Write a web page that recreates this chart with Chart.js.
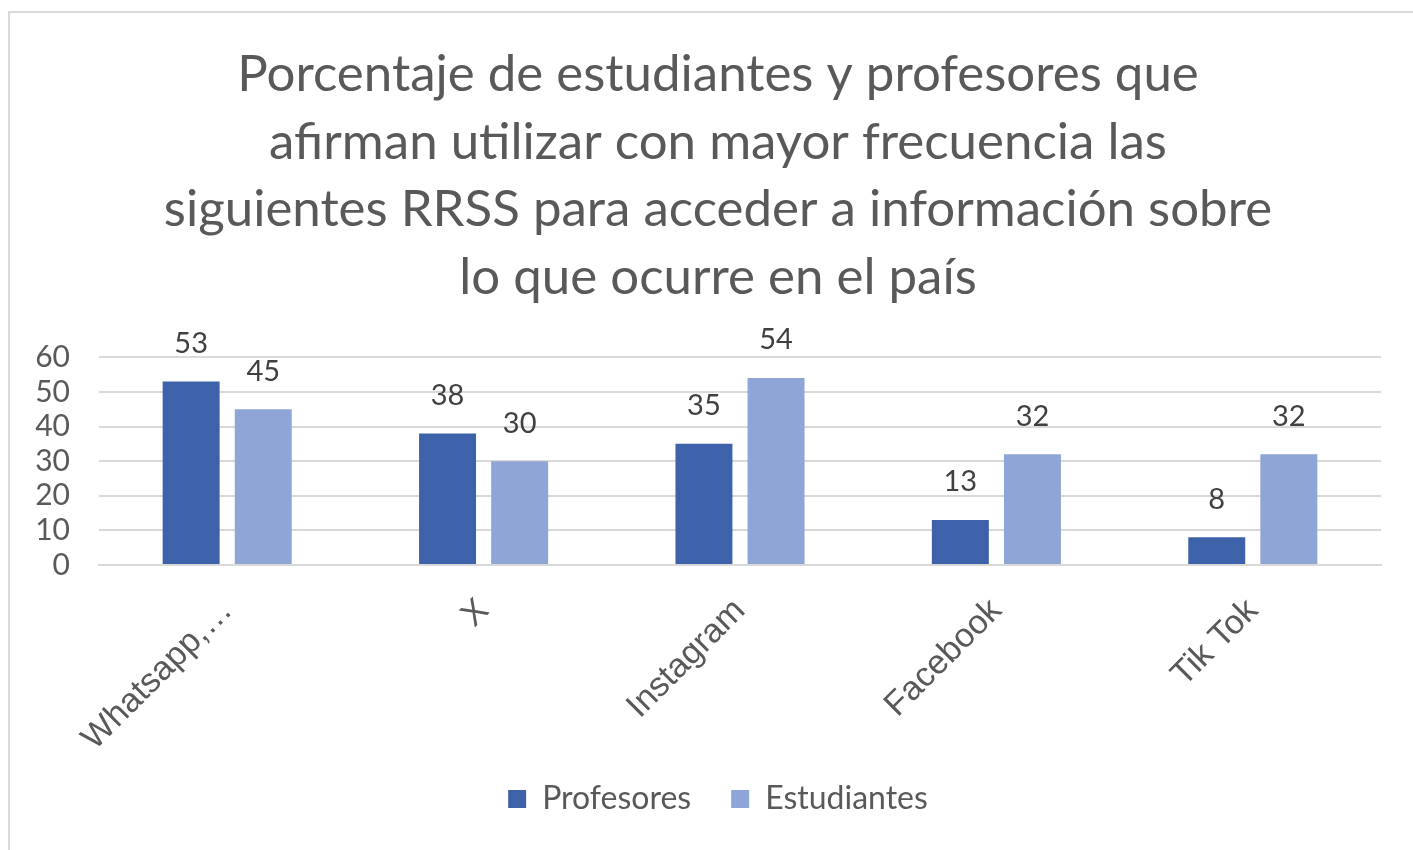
<!DOCTYPE html>
<html>
<head>
<meta charset="utf-8">
<script src="https://cdn.jsdelivr.net/npm/chart.js@4"></script>
<style>
  html, body { margin: 0; padding: 0; background: #fff; overflow: hidden; }
  #frame {
    position: absolute; left: 8px; top: 11px; width: 1420px; height: 850px;
    border-left: 2px solid #d9d9d9; border-top: 2px solid #d9d9d9;
  }
  #wrap { position: absolute; left: 0; top: 0; width: 1413px; height: 850px; }
</style>
</head>
<body>
<div id="frame"></div>
<div id="wrap"><canvas id="chart" width="1413" height="850"></canvas></div>
<script>
// RRSS categories and series (percent)
const categories = ['Whatsapp,…', 'X', 'Instagram', 'Facebook', 'Tik Tok'];
const profesores = [53, 38, 35, 13, 8];
const estudiantes = [45, 30, 54, 32, 32];
const titleLines = [
  'Porcentaje de estudiantes y profesores que',
  'afirman utilizar con mayor frecuencia las',
  'siguientes RRSS para acceder a información sobre',
  'lo que ocurre en el país'
];

// draws the value above each bar
const barValues = {
  id: 'barValues',
  afterDatasetsDraw(chart) {
    const ctx = chart.ctx;
    ctx.save();
    ctx.font = '29px Lato';
    ctx.fillStyle = '#404040';
    ctx.textAlign = 'center';
    ctx.textBaseline = 'middle';
    chart.data.datasets.forEach((ds, i) => {
      chart.getDatasetMeta(i).data.forEach((bar, j) => {
        ctx.fillText(ds.data[j], bar.x, bar.y - 38);
      });
    });
    ctx.restore();
  }
};

const ctx = document.getElementById('chart').getContext('2d');
new Chart(ctx, {
  type: 'bar',
  data: {
    labels: categories,
    datasets: [
      { label: 'Profesores', data: profesores, backgroundColor: '#3e62aa' },
      { label: 'Estudiantes', data: estudiantes, backgroundColor: '#8fa5d5' }
    ]
  },
  options: {
    responsive: false,
    animation: false,
    categoryPercentage: 0.5625,
    barPercentage: 0.79,
    layout: { padding: { left: 55, right: 32, top: 0, bottom: 25 } },
    plugins: {
      title: {
        display: true,
        text: titleLines,
        color: '#595959',
        font: { family: 'Lato', size: 51, weight: 'normal', lineHeight: 1.325 },
        padding: { top: 41, bottom: 46 }
      },
      legend: {
        position: 'bottom',
        labels: {
          color: '#595959',
          font: { family: 'Lato', size: 32 },
          boxWidth: 18,
          boxHeight: 18,
          padding: 40
        }
      },
      tooltip: { enabled: false }
    },
    scales: {
      x: {
        grid: { display: false, drawTicks: false },
        border: { color: '#d9d9d9', width: 2 },
        ticks: {
          color: '#595959',
          font: { family: 'Liberation Sans', size: 34 },
          maxRotation: 45,
          minRotation: 45,
          padding: 26
        },
        afterFit(scale) {
          scale.height = 178;
          scale._computeLabelArea = () => null;
        }
      },
      y: {
        min: 0,
        max: 60,
        grid: { color: '#d9d9d9', lineWidth: 2, drawTicks: false },
        border: { display: false },
        ticks: {
          stepSize: 10,
          autoSkip: false,
          color: '#595959',
          font: { family: 'Lato', size: 30, lineHeight: 1 },
          padding: 29
        },
        afterFit(scale) {
          scale.width = 44;
          // labels stick out to the left of the narrow axis box
          scale._computeLabelArea = () => null;
        }
      }
    }
  },
  plugins: [barValues]
});
</script>
</body>
</html>
